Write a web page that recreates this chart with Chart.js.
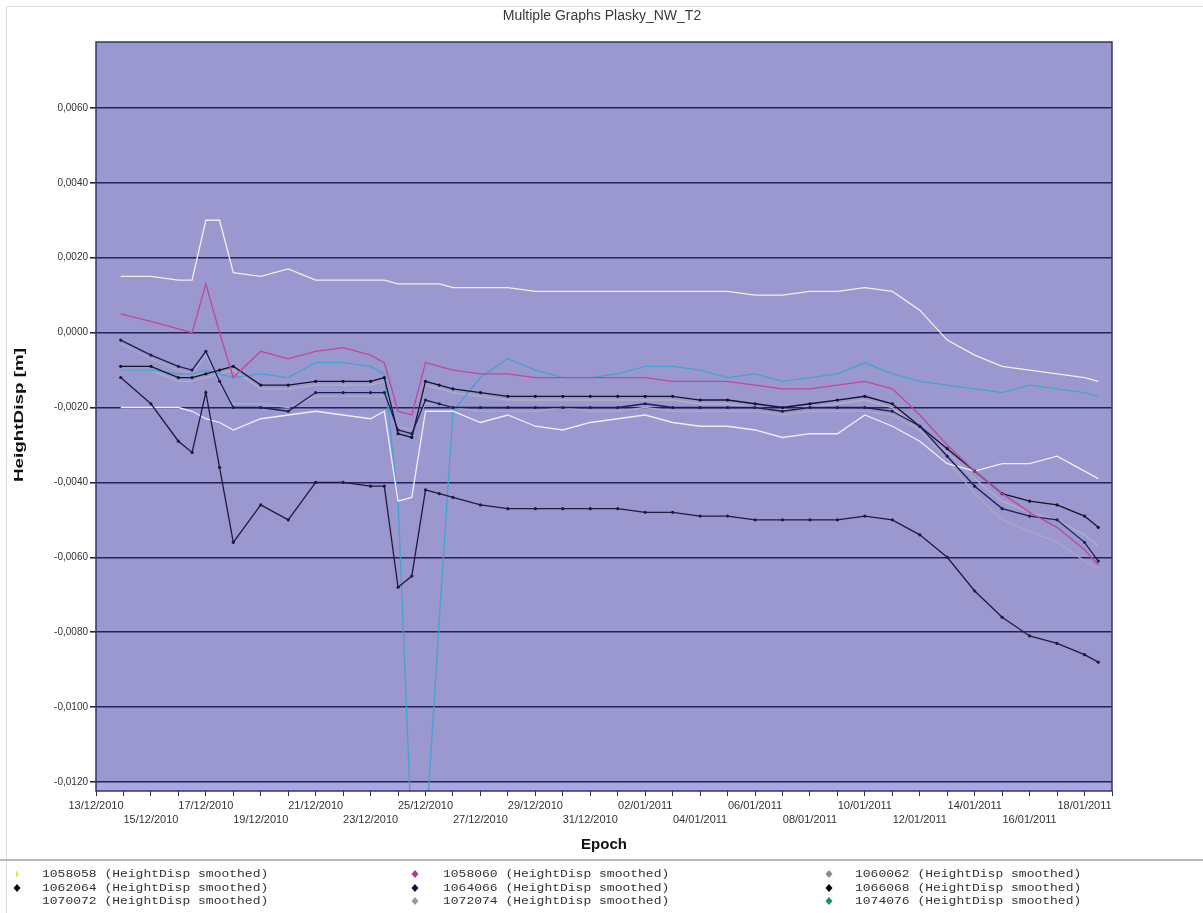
<!DOCTYPE html>
<html>
<head>
<meta charset="utf-8">
<script src="https://cdn.jsdelivr.net/npm/chart.js@4.4.1/dist/chart.umd.min.js"></script>
<style>
  html, body { margin: 0; padding: 0; background: #ffffff; }
  canvas { display: block; }
</style>
</head>
<body>
<canvas id="c" width="1203" height="913"></canvas>
<script>
// Epochs as days after 13/12/2010 00:00
const chartTitle = 'Multiple Graphs Plasky_NW_T2';
const epochDays = [0.9, 2, 3, 3.5, 4, 4.5, 5, 6, 7, 8, 9, 10, 10.5, 11, 11.5, 12, 12.5, 13, 14, 15,
  16, 17, 18, 19, 20, 21, 22, 23, 24, 25, 26, 27, 28, 29, 30, 31, 32, 33, 34, 35, 36, 36.5];

// Date labels every two days, starting at day 0
const tickLabels = ['13/12/2010', '15/12/2010', '17/12/2010', '19/12/2010', '21/12/2010',
  '23/12/2010', '25/12/2010', '27/12/2010', '29/12/2010', '31/12/2010', '02/01/2011',
  '04/01/2011', '06/01/2011', '08/01/2011', '10/01/2011', '12/01/2011', '14/01/2011',
  '16/01/2011', '18/01/2011'];

const yTickValues = [0.006, 0.004, 0.002, 0, -0.002, -0.004, -0.006, -0.008, -0.010, -0.012];

const seriesNames = ['1058058', '1058060', '1060062', '1062064', '1064066', '1066068',
  '1070072', '1072074', '1074076'];

// Height displacement [m], smoothed
const s1058058 = [0.0015, 0.0015, 0.0014, 0.0014, 0.0030, 0.0030, 0.0016, 0.0015, 0.0017, 0.0014,
  0.0014, 0.0014, 0.0014, 0.0013, 0.0013, 0.0013, 0.0013, 0.0012, 0.0012, 0.0012,
  0.0011, 0.0011, 0.0011, 0.0011, 0.0011, 0.0011, 0.0011, 0.0011, 0.0010, 0.0010,
  0.0011, 0.0011, 0.0012, 0.0011, 0.0006, -0.0002, -0.0006, -0.0009, -0.0010, -0.0011,
  -0.0012, -0.0013];
const s1058060 = [0.0005, 0.0003, 0.0001, 0.0000, 0.0013, 0.0000, -0.0012, -0.0005, -0.0007, -0.0005,
  -0.0004, -0.0006, -0.0008, -0.0021, -0.0022, -0.0008, -0.0009, -0.0010, -0.0011, -0.0011,
  -0.0012, -0.0012, -0.0012, -0.0012, -0.0012, -0.0013, -0.0013, -0.0013, -0.0014, -0.0015,
  -0.0015, -0.0014, -0.0013, -0.0015, -0.0022, -0.0030, -0.0037, -0.0043, -0.0048, -0.0052,
  -0.0058, -0.0062];
const s1060062 = [-0.0003, -0.0007, -0.0010, -0.0011, -0.0006, -0.0014, -0.0019, -0.0019, -0.0020, -0.0017,
  -0.0017, -0.0017, -0.0017, -0.0025, -0.0026, -0.0019, -0.0019, -0.0020, -0.0021, -0.0021,
  -0.0021, -0.0020, -0.0021, -0.0021, -0.0020, -0.0021, -0.0021, -0.0021, -0.0021, -0.0022,
  -0.0021, -0.0021, -0.0021, -0.0022, -0.0026, -0.0034, -0.0043, -0.0050, -0.0053, -0.0056,
  -0.0061, -0.0063];
const s1062064 = [-0.0012, -0.0019, -0.0029, -0.0032, -0.0016, -0.0036, -0.0056, -0.0046, -0.0050, -0.0040,
  -0.0040, -0.0041, -0.0041, -0.0068, -0.0065, -0.0042, -0.0043, -0.0044, -0.0046, -0.0047,
  -0.0047, -0.0047, -0.0047, -0.0047, -0.0048, -0.0048, -0.0049, -0.0049, -0.0050, -0.0050,
  -0.0050, -0.0050, -0.0049, -0.0050, -0.0054, -0.0060, -0.0069, -0.0076, -0.0081, -0.0083,
  -0.0086, -0.0088];
const s1064066 = [-0.0002, -0.0006, -0.0009, -0.0010, -0.0005, -0.0013, -0.0020, -0.0020, -0.0021, -0.0016,
  -0.0016, -0.0016, -0.0016, -0.0026, -0.0027, -0.0018, -0.0019, -0.0020, -0.0020, -0.0020,
  -0.0020, -0.0020, -0.0020, -0.0020, -0.0019, -0.0020, -0.0020, -0.0020, -0.0020, -0.0021,
  -0.0020, -0.0020, -0.0020, -0.0021, -0.0025, -0.0033, -0.0041, -0.0047, -0.0049, -0.0050,
  -0.0056, -0.0061];
const s1066068 = [-0.0009, -0.0009, -0.0012, -0.0012, -0.0011, -0.0010, -0.0009, -0.0014, -0.0014, -0.0013,
  -0.0013, -0.0013, -0.0012, -0.0027, -0.0028, -0.0013, -0.0014, -0.0015, -0.0016, -0.0017,
  -0.0017, -0.0017, -0.0017, -0.0017, -0.0017, -0.0017, -0.0018, -0.0018, -0.0019, -0.0020,
  -0.0019, -0.0018, -0.0017, -0.0019, -0.0025, -0.0031, -0.0037, -0.0043, -0.0045, -0.0046,
  -0.0049, -0.0052];
const s1070072 = [-0.0020, -0.0020, -0.0020, -0.0021, -0.0023, -0.0024, -0.0026, -0.0023, -0.0022, -0.0021,
  -0.0022, -0.0023, -0.0021, -0.0045, -0.0044, -0.0021, -0.0021, -0.0021, -0.0024, -0.0022,
  -0.0025, -0.0026, -0.0024, -0.0023, -0.0022, -0.0024, -0.0025, -0.0025, -0.0026, -0.0028,
  -0.0027, -0.0027, -0.0022, -0.0025, -0.0029, -0.0035, -0.0037, -0.0035, -0.0035, -0.0033,
  -0.0037, -0.0039];
const s1072074 = [-0.0010, -0.0010, -0.0013, -0.0013, -0.0012, -0.0011, -0.0010, -0.0015, -0.0015, -0.0014,
  -0.0014, -0.0014, -0.0013, -0.0026, -0.0027, -0.0014, -0.0015, -0.0016, -0.0017, -0.0018,
  -0.0018, -0.0018, -0.0018, -0.0018, -0.0018, -0.0018, -0.0019, -0.0019, -0.0020, -0.0021,
  -0.0020, -0.0019, -0.0018, -0.0020, -0.0026, -0.0032, -0.0039, -0.0045, -0.0048, -0.0050,
  -0.0054, -0.0057];
const s1074076 = [-0.0010, -0.0010, -0.0011, -0.0011, -0.0010, -0.0011, -0.0012, -0.0011, -0.0012, -0.0008,
  -0.0008, -0.0009, -0.0011, -0.0045, -0.0135, -0.0135, -0.0077, -0.0021, -0.0012, -0.0007,
  -0.0010, -0.0012, -0.0012, -0.0011, -0.0009, -0.0009, -0.0010, -0.0012, -0.0011, -0.0013,
  -0.0012, -0.0011, -0.0008, -0.0011, -0.0013, -0.0014, -0.0015, -0.0016, -0.0014, -0.0015,
  -0.0016, -0.0017];

const seriesValues = [s1058058, s1058060, s1060062, s1062064, s1064066, s1066068, s1070072, s1072074, s1074076];

// Styling
const lineColors = ['#eef2e4', '#c0489c', '#aaaac0', '#24183e', '#1c1c58', '#141428', '#eeeefa', '#b0b0c4', '#44a4d0'];
const markerColors = ['#e6e04a', '#b23a98', '#8a8a8a', '#000000', '#0c0c40', '#000000', '#ffffff', '#9a9a9a', '#1c8a74'];
const dotted = [false, false, false, true, true, true, false, false, false];
const underlay = [false, false, true, false, false, false, false, true, false];

const datasets = seriesNames.map((name, i) => ({
  label: name + ' (HeightDisp smoothed)',
  data: epochDays.map((d, k) => ({ x: d, y: seriesValues[i][k] })),
  borderColor: lineColors[i],
  backgroundColor: lineColors[i],
  borderWidth: 1.3,
  pointRadius: dotted[i] ? 1.6 : 0,
  pointBorderWidth: 0,
  tension: 0,
  fill: false,
  order: underlay[i] ? 1 : 0
}));

const Y_MIN = -0.01224, Y_MAX = 0.00776;

const decor = {
  id: 'decor',
  beforeDraw(chart) {
    const { ctx, chartArea: a, scales } = chart;
    ctx.save();
    ctx.fillStyle = '#ffffff';
    ctx.fillRect(0, 0, chart.width, chart.height);
    // light frame at top and left of the page
    ctx.strokeStyle = '#dcdcdc';
    ctx.lineWidth = 1;
    ctx.beginPath();
    ctx.moveTo(6.5, 913); ctx.lineTo(6.5, 6.5); ctx.lineTo(1203, 6.5);
    ctx.stroke();
    ctx.fillStyle = '#9b97cf';
    ctx.fillRect(a.left, a.top, a.right - a.left, a.bottom - a.top);
    const yb = scales.y.getPixelForValue(-0.012);
    ctx.fillStyle = '#aaa8e2';
    ctx.fillRect(a.left, yb, a.right - a.left, a.bottom - yb);
    ctx.restore();
  },
  afterDraw(chart) {
    const { ctx, chartArea: a } = chart;
    ctx.save();
    // plot frame
    ctx.strokeStyle = '#34346a';
    ctx.lineWidth = 1.5;
    ctx.strokeRect(a.left, a.top, a.right - a.left, a.bottom - a.top);

    // title
    ctx.fillStyle = '#3a3a3a';
    ctx.textAlign = 'center';
    ctx.textBaseline = 'middle';
    ctx.font = '14px "Liberation Sans", Arial, sans-serif';
    ctx.fillText(chartTitle, 602, 16);

    // y axis title
    ctx.save();
    ctx.translate(19, 415);
    ctx.rotate(-Math.PI / 2);
    ctx.scale(1.45, 1);
    ctx.fillStyle = '#111111';
    ctx.font = 'bold 13px "Liberation Sans", Arial, sans-serif';
    ctx.fillText('HeightDisp [m]', 0, 0);
    ctx.restore();

    // x axis title
    ctx.fillStyle = '#111111';
    ctx.font = 'bold 15px "Liberation Sans", Arial, sans-serif';
    ctx.fillText('Epoch', 604, 845);

    // legend separator
    ctx.strokeStyle = '#b8b8b8';
    ctx.lineWidth = 2;
    ctx.beginPath();
    ctx.moveTo(0, 860); ctx.lineTo(1203, 860);
    ctx.stroke();

    // legend, three columns
    const rowY = [874, 888, 901];
    const markX = [17, 415, 829];
    const textX = [42, 443, 855];
    ctx.textAlign = 'left';
    ctx.font = '10px "Liberation Mono", "DejaVu Sans Mono", monospace';
    chart.data.datasets.forEach((ds, i) => {
      const r = Math.floor(i / 3), c = i % 3;
      const y = rowY[r];
      const mx = markX[c];
      const hw = i === 0 ? 1.5 : 3.5;
      ctx.fillStyle = markerColors[i];
      ctx.beginPath();
      ctx.moveTo(mx, y - 4); ctx.lineTo(mx + hw, y); ctx.lineTo(mx, y + 4); ctx.lineTo(mx - hw, y);
      ctx.closePath();
      ctx.fill();
      ctx.save();
      ctx.translate(textX[c], y);
      ctx.scale(1.3, 1);
      ctx.fillStyle = '#333333';
      ctx.fillText(ds.label, 0, 0);
      ctx.restore();
    });
    ctx.restore();
  }
};

new Chart(document.getElementById('c'), {
  type: 'line',
  data: { datasets },
  options: {
    responsive: false,
    animation: false,
    events: [],
    layout: { padding: { top: 42, right: 91, left: 0, bottom: 0 } },
    plugins: { legend: { display: false }, tooltip: { enabled: false }, title: { display: false } },
    scales: {
      x: {
        type: 'linear',
        min: 0,
        max: 37,
        afterBuildTicks(scale) {
          const t = [];
          for (let d = 0; d <= 37; d++) t.push({ value: d });
          scale.ticks = t;
        },
        afterFit(scale) { scale.height = 122; },
        grid: { drawOnChartArea: false, tickLength: 5, color: '#2a2a5a', lineWidth: 1 },
        border: { display: false },
        ticks: {
          autoSkip: false,
          maxRotation: 0,
          minRotation: 0,
          padding: 3,
          color: '#333333',
          font: { family: '"Liberation Sans", Arial, sans-serif', size: 11, lineHeight: 1.25 },
          callback(value) {
            const d = Math.round(value);
            if (d % 2 !== 0) return '';
            const k = d / 2;
            const lbl = tickLabels[k];
            if (!lbl) return '';
            return k % 2 === 0 ? lbl : ['', lbl];
          }
        }
      },
      y: {
        type: 'linear',
        min: Y_MIN,
        max: Y_MAX,
        afterBuildTicks(scale) {
          scale.ticks = yTickValues.map(v => ({ value: v }));
        },
        afterFit(scale) { scale.width = 96; },
        grid: { color: '#22225c', lineWidth: 1.6, tickLength: 6 },
        border: { display: false },
        ticks: {
          padding: 2,
          color: '#333333',
          font: { family: '"Liberation Sans", Arial, sans-serif', size: 10 },
          callback(value) { return value.toFixed(4).replace('.', ','); }
        }
      }
    }
  },
  plugins: [decor]
});
</script>
</body>
</html>
